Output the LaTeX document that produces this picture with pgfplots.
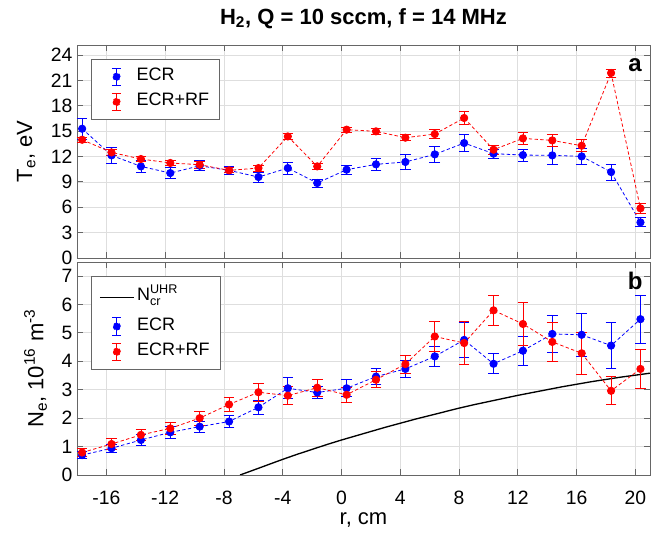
\documentclass[border=0pt]{standalone}
\usepackage{fontspec}
\setmainfont{Liberation Sans}
\usepackage{pgfplots}
\usepackage{pgfplotstable}
\pgfplotsset{compat=1.18}

\pgfplotstableread{
x      Tecr  eTecr  Trf   eTrf
-17.65 15.28 1.25  13.98 0.30
-15.65 12.13 0.93  12.48 0.33
-13.65 10.83 0.75  11.70 0.30
-11.65 10.04 0.63  11.23 0.30
-9.65  10.90 0.60  11.03 0.40
-7.65  10.36 0.45  10.36 0.30
-5.65  9.57  0.60  10.63 0.35
-3.65  10.63 0.70  14.37 0.40
-1.65  8.86  0.47  10.83 0.35
0.35   10.44 0.55  15.17 0.30
2.35   11.07 0.75  14.97 0.40
4.35   11.35 0.85  14.22 0.35
6.35   12.25 1.00  14.65 0.55
8.35   13.59 1.00  16.55 0.80
10.35  12.33 0.50  12.80 0.50
12.35  12.17 0.70  14.14 0.73
14.35  12.13 1.05  13.90 0.70
16.35  12.01 0.95  13.27 0.70
18.35  10.16 0.93  21.87 0.47
20.35  4.21  0.53  5.87  0.63
}\toptab

\pgfplotstableread{
x      Necr eNecr Nrf  eNrf
-17.65 0.70 0.12  0.79 0.13
-15.65 0.94 0.15  1.09 0.18
-13.65 1.23 0.19  1.41 0.20
-11.65 1.50 0.20  1.64 0.20
-9.65  1.70 0.20  2.00 0.25
-7.65  1.88 0.20  2.48 0.25
-5.65  2.38 0.24  2.91 0.32
-3.65  3.05 0.37  2.79 0.32
-1.65  2.90 0.20  3.07 0.30
0.35   3.05 0.30  2.82 0.25
2.35   3.46 0.28  3.35 0.28
4.35   3.73 0.29  3.90 0.32
6.35   4.17 0.34  4.87 0.52
8.35   4.75 0.63  4.64 0.76
10.35  3.91 0.35  5.79 0.52
12.35  4.37 0.52  5.31 0.75
14.35  4.96 0.65  4.68 0.69
16.35  4.93 0.75  4.28 0.73
18.35  4.55 0.81  2.96 0.49
20.35  5.48 0.85  3.73 0.69
}\bottab

\pgfplotsset{
  panel/.style={
    scale only axis, width=429.75pt, height=159.75pt,
    xmin=-18, xmax=21, xtick={-16,-12,...,20},
    axis line style={black!60, line width=0.7pt},
    tick style={black!60, line width=0.6pt},
    major tick length=4.3pt,
    tick align=inside,
    grid=major, major grid style={black!13, line width=0.5pt},
    tick label style={font=\fontsize{14.5}{16}\selectfont},
    /pgf/number format/assume math mode=true,
    xticklabel style={yshift=-8.5pt},
    legend cell align=left,
    legend style={anchor=north west, draw=black!60, line width=0.6pt,
      font=\fontsize{13.5}{15}\selectfont, inner xsep=6pt, inner ysep=5pt,
      row sep=3pt, nodes={inner ysep=1.5pt, text depth=3.5pt}},
  },
  ser/.style={#1, line width=0.6pt, dash pattern=on 2.5pt off 1.8pt,
    mark=*, mark size=2.75pt, mark options={solid, fill=#1},
    error bars/y dir=both, error bars/y explicit,
    error bars/error bar style={solid, line width=0.6pt, #1},
    error bars/error mark options={rotate=90, mark size=4pt, line width=0.6pt, solid, #1}},
  ebleg/.style={legend image code/.code={
    \path (0pt,0pt) (25.5pt,0pt);
    \draw[solid,line width=0.6pt] (12.75pt,-6.6pt)--(12.75pt,6.6pt);
    \draw[solid,line width=0.6pt] (9.3pt,-6.6pt)--(16.2pt,-6.6pt) (9.3pt,6.6pt)--(16.2pt,6.6pt);
    \fill (12.75pt,0pt) circle (2.75pt);
  }},
}

\begin{document}
\begin{tikzpicture}
% top panel
\begin{axis}[panel,
  at={(57.75pt,207pt)}, anchor=south west,
  ymin=0, ymax=25.18, ytick={0,3,...,24},
  xticklabels={},
  ylabel={T$_{\mathrm{e}}$, eV},
  ylabel style={at={(axis description cs:-0.0785,0.5)}, anchor=base,
    font=\fontsize{16.5}{18}\selectfont},
  title={H\textsubscript{2}, Q = 10 sccm, f = 14 MHz},
  title style={at={(axis description cs:0.5,1.06)}, anchor=base,
    font=\bfseries\fontsize{16.5}{18}\selectfont},
  legend style={at={(0.024,0.934)}},
]
\addplot[ser=blue, ebleg] table[x=x, y=Tecr, y error=eTecr] {\toptab};
\addlegendentry{ECR}
\addplot[ser=red, ebleg] table[x=x, y=Trf, y error=eTrf] {\toptab};
\addlegendentry{ECR+RF}
\node[font=\bfseries\fontsize{18}{18}\selectfont] at (axis description cs:0.974,0.906) {a};
\end{axis}
% bottom panel
\begin{axis}[panel,
  at={(57.75pt,44.25pt)}, anchor=south west,
  ymin=0, ymax=7.49, ytick={0,1,...,7},
  xlabel={r, cm},
  xlabel style={at={(axis description cs:0.5,-0.231)}, anchor=base,
    font=\fontsize{16.5}{18}\selectfont},
  ylabel={N$_{\mathrm{e}}$, 10\textsuperscript{16} m\textsuperscript{-3}},
  ylabel style={at={(axis description cs:-0.0588,0.5)}, anchor=base,
    font=\fontsize{16.5}{18}\selectfont},
  legend style={at={(0.024,0.935)}},
]
\addplot[black, line width=1pt, legend image code/.code={\draw[black, line width=1pt] (0pt,0pt)--(25.5pt,0pt);}] coordinates {
(-6.9,0) (-6,0.17) (-5,0.36) (-4,0.55) (-3,0.73) (-2,0.9) (-1,1.07) (0,1.23)
(1,1.38) (2,1.53) (3,1.68) (4,1.82) (5,1.96) (6,2.09) (7,2.22) (8,2.35)
(9,2.47) (10,2.58) (11,2.69) (12,2.8) (13,2.9) (14,3.0) (15,3.1) (16,3.19)
(17,3.28) (18,3.36) (19,3.44) (20,3.51) (21,3.58)};
\addlegendentry[text depth=7pt]{$\mathrm{N}^{\mathrm{UHR}}_{\mathrm{cr}}$}
\addplot[ser=blue, ebleg] table[x=x, y=Necr, y error=eNecr] {\bottab};
\addlegendentry{ECR}
\addplot[ser=red, ebleg] table[x=x, y=Nrf, y error=eNrf] {\bottab};
\addlegendentry{ECR+RF}
\node[font=\bfseries\fontsize{18}{18}\selectfont] at (axis description cs:0.974,0.913) {b};
\end{axis}
\pgfresetboundingbox
\useasboundingbox (0pt,0pt) rectangle (495pt,400.5pt);
\end{tikzpicture}
\end{document}
